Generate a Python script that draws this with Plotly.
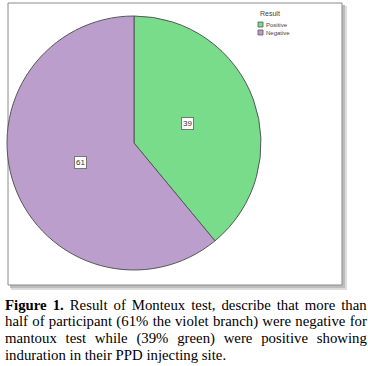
import math
import plotly.graph_objects as go

categories = ["Positive", "Negative"]
values = [39, 61]
colors = ["#79DC8B", "#BB9ECB"]
legend_title = "Result"
caption_bold = "Figure 1."
caption_lines = [
    "Figure 1. Result of Monteux test, describe that more than",
    "half of participant (61% the violet branch) were negative for",
    "mantoux test while (39% green) were positive showing",
    "induration in their PPD injecting site.",
]

W, H = 368, 366
cx, cy, r = 134, 143, 127  # pie centre/radius in pixels (top-left origin)


def px(x):
    return x / W


def py(y):
    return 1 - y / H


fig = go.Figure()
fig.add_trace(go.Pie(
    labels=categories, values=values, sort=False, direction="clockwise", rotation=0,
    marker=dict(colors=colors, line=dict(color="#55575a", width=1)),
    textinfo="none", hoverinfo="label+value", showlegend=False,
    domain=dict(x=[px(cx - r), px(cx + r)], y=[py(cy + r), py(cy - r)]),
))

# value labels in boxes, placed at slice mid-angles
total = sum(values)
start = 0.0
for v in values:
    mid = (start + v / 2) / total * 2 * math.pi
    start += v
    lx = cx + 0.45 * r * math.sin(mid)
    ly = cy - 0.45 * r * math.cos(mid)
    fig.add_annotation(x=px(lx), y=py(ly), xref="paper", yref="paper", text=str(v),
                       xanchor="center", yanchor="middle",
                       showarrow=False, font=dict(family="Arial", size=8, color="#333"),
                       bgcolor="white", bordercolor="#777", borderwidth=1, borderpad=1)

shapes = [
    # shadow
    dict(type="rect", x0=px(11), x1=px(347), y0=py(290), y1=py(6), xref="paper", yref="paper",
         line=dict(width=0), fillcolor="#dcdcdc", layer="below"),
    dict(type="rect", x0=px(10), x1=px(345), y0=py(288), y1=py(5), xref="paper", yref="paper",
         line=dict(width=0), fillcolor="#bdbdbd", layer="below"),
    dict(type="rect", x0=px(8), x1=px(342), y0=py(285), y1=py(3), xref="paper", yref="paper",
         line=dict(color="#8a8a8a", width=1), fillcolor="white", layer="below"),
]

# manual legend
fig.add_annotation(x=px(270), y=py(13), xref="paper", yref="paper", text=legend_title,
                   xanchor="center", yanchor="middle",
                   showarrow=False, font=dict(family="Arial", size=7, color="#444"))
for i, (cat, col) in enumerate(zip(categories, colors)):
    y0 = 22 + i * 8
    shapes.append(dict(type="rect", x0=px(258), x1=px(263), y0=py(y0 + 5), y1=py(y0),
                       xref="paper", yref="paper", line=dict(color="#555", width=0.8), fillcolor=col))
    fig.add_annotation(x=px(264), y=py(y0 + 2.5), xref="paper", yref="paper", text=cat,
                       xanchor="left", yanchor="middle", showarrow=False,
                       font=dict(family="Arial", size=6, color="#444"))

# --- justified caption (Times metrics, units per 1000 em) ---
REG = dict(zip("abcdefghijklmnopqrstuvwxyz",
               [444, 500, 444, 500, 444, 333, 500, 500, 278, 278, 500, 278, 778,
                500, 500, 500, 500, 333, 389, 278, 500, 500, 722, 500, 500, 444]))
REG.update({"F": 556, "R": 667, "M": 889, "P": 556, "D": 722, "(": 333, ")": 333, "%": 833,
            ",": 250, ".": 250, " ": 250, "0": 500, "1": 500, "3": 500, "6": 500, "9": 500})
BOLD = {"F": 611, "i": 278, "g": 500, "u": 556, "r": 444, "e": 444, "1": 500, ".": 250, " ": 250}
FS = 14.8
left, right = 3, 365


def wwidth(word, table):
    return sum(table.get(c, 500) for c in word) * FS / 1000


def spacer(gap):
    n = max(1, math.ceil(gap / (0.25 * FS) - 1e-9))
    size = gap / (0.25 * n)
    return '<span style="font-size:%.2fpx">%s</span>' % (size, "\u00a0" * n)


for i, line in enumerate(caption_lines):
    justify = i < len(caption_lines) - 1
    bold_lead = line.startswith(caption_bold)
    if bold_lead:
        lead_words = caption_bold.split()
        rest = line[len(caption_bold):].split()
        widths = [wwidth(w, BOLD) for w in lead_words] + [wwidth(w, REG) for w in rest]
        ngaps = len(lead_words) + len(rest) - 1
    else:
        rest = line.split()
        widths = [wwidth(w, REG) for w in rest]
        ngaps = len(rest) - 1
    sp = spacer((right - left - sum(widths)) / ngaps) if justify else " "
    if bold_lead:
        text = sp.join("<b>%s</b>" % w for w in lead_words) + sp + sp.join(rest)
    else:
        text = sp.join(rest)
    fig.add_annotation(x=px(left), y=py(305 + i * 16.7), xref="paper", yref="paper",
                       xanchor="left", yanchor="middle", text=text, showarrow=False,
                       font=dict(family="Liberation Serif", size=FS, color="black"))

fig.update_layout(
    width=W, height=H, margin=dict(l=0, r=0, t=0, b=0),
    paper_bgcolor="white", plot_bgcolor="white", shapes=shapes, showlegend=False,
)

fig.write_html("out.html", config={"displayModeBar": False},
               post_script="document.body.style.margin='0';")
